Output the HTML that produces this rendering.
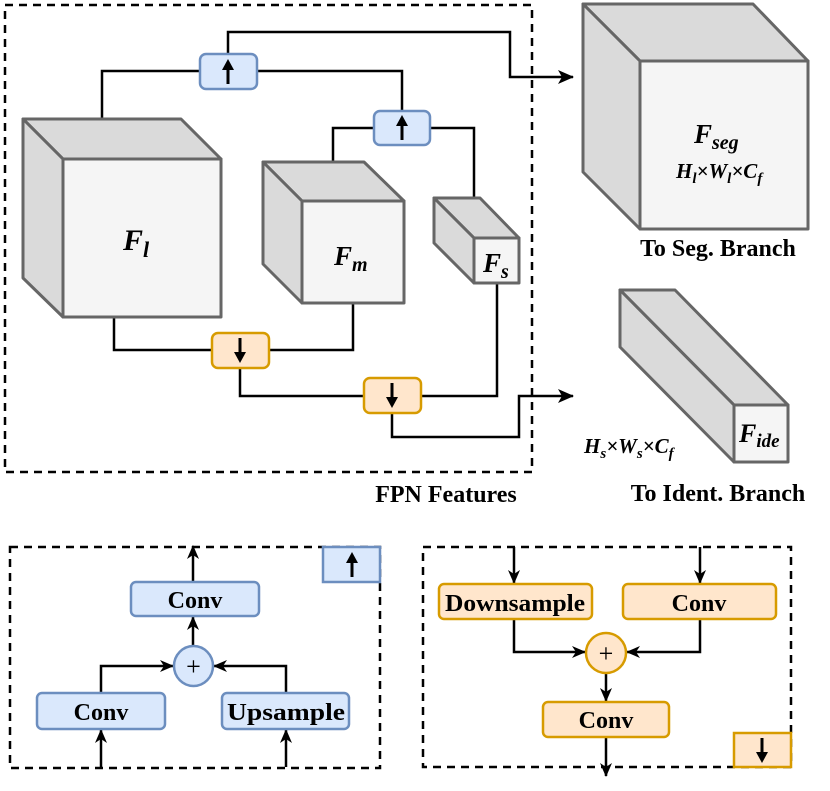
<!DOCTYPE html>
<html><head><meta charset="utf-8"><style>
html,body{margin:0;padding:0;background:#fff;}
svg{display:block;}
text{font-family:"Liberation Serif",serif;font-weight:bold;}
</style></head><body>
<svg width="830" height="791" viewBox="0 0 830 791" xmlns="http://www.w3.org/2000/svg">
<defs>
<marker id="ah" markerWidth="14" markerHeight="12" refX="13" refY="6" orient="auto" markerUnits="userSpaceOnUse">
<path d="M0,0 L14,6 L0,12 L4,6 Z" fill="#000"/></marker>
<marker id="ahb" markerWidth="16" markerHeight="14" refX="15" refY="7" orient="auto" markerUnits="userSpaceOnUse">
<path d="M0,0 L16,7 L0,14 L4,7 Z" fill="#000"/></marker>
</defs>
<g fill="none" stroke="#000" stroke-width="2.5" stroke-dasharray="8,6">
<rect x="5" y="5" width="527" height="467"/>
<rect x="10" y="547" width="370" height="221"/>
<rect x="423" y="547" width="368" height="220"/>
</g>
<g fill="none" stroke="#000" stroke-width="2.5">
<polyline points="228,54 228,32 510,32 510,77 573,77" marker-end="url(#ahb)"/>
<polyline points="200,71 102,71 102,119"/>
<polyline points="257,71 402,71 402,111"/>
<polyline points="374,128 333,128 333,162"/>
<polyline points="430,128 474,128 474,198"/>
<polyline points="114,317 114,350 212,350"/>
<polyline points="269,350 353,350 353,303"/>
<polyline points="240,368 240,396 364,396"/>
<polyline points="421,396 497,396 497,283"/>
<polyline points="392,413 392,437 519,437 519,396 573,396" marker-end="url(#ahb)"/>
</g>
<g stroke="#666" stroke-width="3" stroke-linejoin="round">
<polygon points="23,119 181,119 221,159 63,159" fill="#dadada"/>
<polygon points="23,119 63,159 63,317 23,278" fill="#dadada"/>
<rect x="63" y="159" width="158" height="158" fill="#f5f5f5"/>
<polygon points="263,162 364,162 404,201 302,201" fill="#dadada"/>
<polygon points="263,162 302,201 302,303 263,264" fill="#dadada"/>
<rect x="302" y="201" width="102" height="102" fill="#f5f5f5"/>
<polygon points="434,198 480,198 519,238 474,238" fill="#dadada"/>
<polygon points="434,198 474,238 474,283 434,243" fill="#dadada"/>
<rect x="474" y="238" width="45" height="45" fill="#f5f5f5"/>
<polygon points="583,4 753,4 808,61 640,61" fill="#dadada"/>
<polygon points="583,4 640,61 640,229 583,172" fill="#dadada"/>
<rect x="640" y="61" width="168" height="168" fill="#f5f5f5"/>
<polygon points="620,290 675,290 788,405 734,405" fill="#dadada"/>
<polygon points="620,290 734,405 734,462 620,347" fill="#dadada"/>
<rect x="734" y="405" width="54" height="57" fill="#f5f5f5"/>
</g>
<g stroke-width="2.5">
<rect x="200" y="54" width="57" height="35" rx="6" fill="#dae8fc" stroke="#6c8ebf"/>
<rect x="374" y="111" width="56" height="34" rx="6" fill="#dae8fc" stroke="#6c8ebf"/>
<rect x="212" y="333" width="57" height="35" rx="6" fill="#ffe6cc" stroke="#d79b00"/>
<rect x="364" y="378" width="57" height="35" rx="6" fill="#ffe6cc" stroke="#d79b00"/>
<rect x="323" y="547" width="57" height="35" fill="#dae8fc" stroke="#6c8ebf"/>
<rect x="734" y="733" width="57" height="34" fill="#ffe6cc" stroke="#d79b00"/>
</g>
<g stroke="#000" stroke-width="3" fill="#000">
<line x1="228" y1="84" x2="228" y2="68"/><path d="M222,70 L228,59 L234,70 Z" stroke="none"/>
<line x1="402" y1="140" x2="402" y2="124"/><path d="M396,126 L402,115 L408,126 Z" stroke="none"/>
<line x1="240" y1="338" x2="240" y2="354"/><path d="M234,352 L240,363 L246,352 Z" stroke="none"/>
<line x1="392" y1="383" x2="392" y2="399"/><path d="M386,397 L392,408 L398,397 Z" stroke="none"/>
<line x1="352" y1="577" x2="352" y2="561"/><path d="M346,563 L352,552 L358,563 Z" stroke="none"/>
<line x1="762" y1="738" x2="762" y2="754"/><path d="M756,752 L762,763 L768,752 Z" stroke="none"/>
</g>
<g font-style="italic" fill="#000">
<text x="123" y="250" font-size="30">F<tspan font-size="22" dy="7">l</tspan></text>
<text x="334" y="265" font-size="27">F<tspan font-size="20" dy="6">m</tspan></text>
<text x="483" y="272" font-size="27">F<tspan font-size="20" dy="6">s</tspan></text>
<text x="694" y="143" font-size="27">F<tspan font-size="20" dy="6">seg</tspan></text>
<text x="676" y="178" font-size="21">H<tspan font-size="15" dy="5">l</tspan><tspan dy="-5">×W</tspan><tspan font-size="15" dy="5">l</tspan><tspan dy="-5">×C</tspan><tspan font-size="15" dy="5">f</tspan></text>
<text x="739" y="442" font-size="26">F<tspan font-size="19" dy="5">ide</tspan></text>
<text x="584" y="453" font-size="21">H<tspan font-size="15" dy="5">s</tspan><tspan dy="-5">×W</tspan><tspan font-size="15" dy="5">s</tspan><tspan dy="-5">×C</tspan><tspan font-size="15" dy="5">f</tspan></text>
</g>
<g font-size="24" fill="#000" text-anchor="middle">
<text x="718" y="256">To Seg. Branch</text>
<text x="718" y="501">To Ident. Branch</text>
<text x="446" y="502">FPN Features</text>
</g>
<g fill="none" stroke="#000" stroke-width="2.5">
<line x1="193" y1="582" x2="193" y2="546" marker-end="url(#ah)"/>
<line x1="193" y1="646" x2="193" y2="617" marker-end="url(#ah)"/>
<polyline points="101,693 101,666 173,666" marker-end="url(#ah)"/>
<polyline points="286,693 286,666 214,666" marker-end="url(#ah)"/>
<line x1="101" y1="767" x2="101" y2="730" marker-end="url(#ah)"/>
<line x1="286" y1="767" x2="286" y2="730" marker-end="url(#ah)"/>
<line x1="514" y1="547" x2="514" y2="583" marker-end="url(#ah)"/>
<line x1="700" y1="547" x2="700" y2="583" marker-end="url(#ah)"/>
<polyline points="514,619 514,652 585,652" marker-end="url(#ah)"/>
<polyline points="700,619 700,652 627,652" marker-end="url(#ah)"/>
<line x1="606" y1="673" x2="606" y2="701" marker-end="url(#ah)"/>
<line x1="606" y1="737" x2="606" y2="776" marker-end="url(#ah)"/>
</g>
<g stroke-width="2.5">
<rect x="131" y="582" width="128" height="34" rx="5" fill="#dae8fc" stroke="#6c8ebf"/>
<rect x="37" y="693" width="128" height="36" rx="5" fill="#dae8fc" stroke="#6c8ebf"/>
<rect x="222" y="693" width="127" height="36" rx="5" fill="#dae8fc" stroke="#6c8ebf"/>
<ellipse cx="193.5" cy="666" rx="19.5" ry="20" fill="#dae8fc" stroke="#6c8ebf"/>
<rect x="439" y="584" width="153" height="35" rx="5" fill="#ffe6cc" stroke="#d79b00"/>
<rect x="623" y="584" width="153" height="35" rx="5" fill="#ffe6cc" stroke="#d79b00"/>
<rect x="543" y="702" width="126" height="35" rx="5" fill="#ffe6cc" stroke="#d79b00"/>
<ellipse cx="606" cy="653" rx="20" ry="20" fill="#ffe6cc" stroke="#d79b00"/>
</g>
<g font-size="24" fill="#000" text-anchor="middle">
<text x="195" y="608">Conv</text>
<text x="101" y="720">Conv</text>
<text x="286" y="720" textLength="118" lengthAdjust="spacingAndGlyphs">Upsample</text>
<text x="515" y="611" textLength="140" lengthAdjust="spacingAndGlyphs">Downsample</text>
<text x="699" y="611">Conv</text>
<text x="606" y="728">Conv</text>
</g>
<g font-size="26" fill="#000" text-anchor="middle">
<text x="193.5" y="675" style="font-weight:normal">+</text>
<text x="606" y="662" style="font-weight:normal">+</text>
</g>
</svg>
</body></html>
